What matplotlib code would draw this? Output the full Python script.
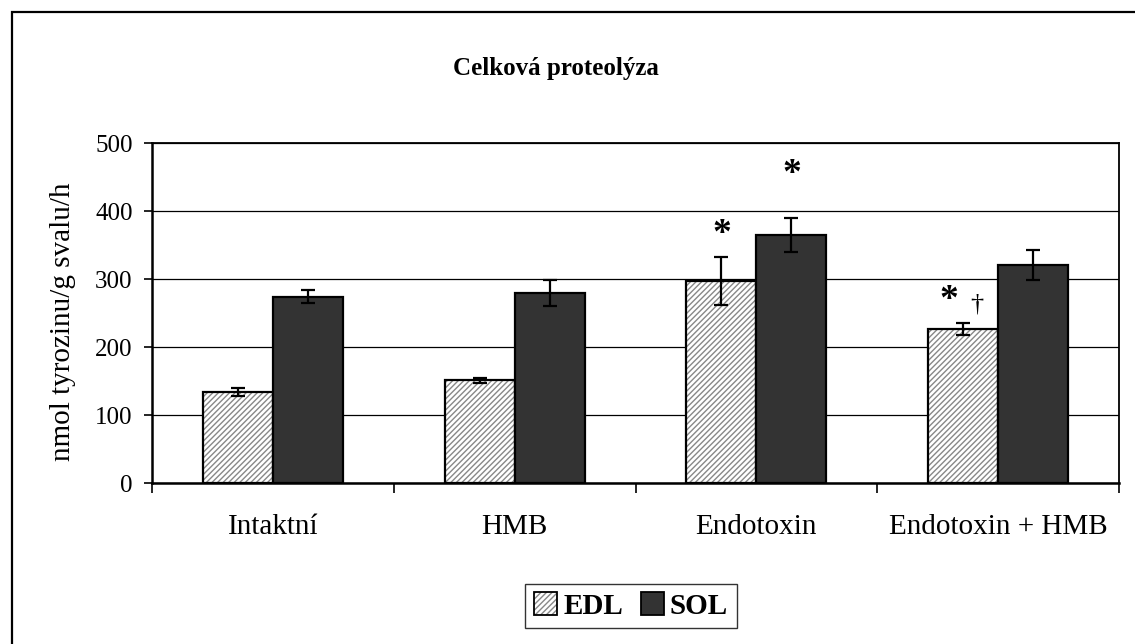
import numpy as np
import matplotlib
matplotlib.use('Agg')
import matplotlib.pyplot as plt
from matplotlib.patches import Patch, Rectangle
from matplotlib.legend_handler import HandlerTuple

plt.rcParams['font.family'] = ['Liberation Serif', 'DejaVu Serif']
plt.rcParams['hatch.linewidth'] = 1.0

categories = ['Intaktní', 'HMB', 'Endotoxin', 'Endotoxin + HMB']
edl = [134, 151, 297, 226]
edl_err = [6, 4, 35, 9]
sol = [274, 279, 365, 320]
sol_err = [10, 19, 25, 22]

W, H = 1135, 644
fig = plt.figure(figsize=(W / 100, H / 100), dpi=100)
ax = fig.add_axes([152 / W, 1 - 483 / H, (1119 - 152) / W, (483 - 143) / H])

x = np.arange(len(categories))
bw = 0.29

# EDL: hatch in grey, outline in black
ax.bar(x - bw / 2, edl, bw, color='white', edgecolor='#888888', hatch='//////', linewidth=0, zorder=2)
ax.bar(x - bw / 2, edl, bw, fill=False, edgecolor='black', linewidth=1.6, zorder=3)
ax.bar(x + bw / 2, sol, bw, color='#333333', edgecolor='black', linewidth=1.6, zorder=3)

ax.errorbar(x - bw / 2, edl, yerr=edl_err, fmt='none', ecolor='black', elinewidth=1.6, capsize=5, capthick=1.6, zorder=4)
ax.errorbar(x + bw / 2, sol, yerr=sol_err, fmt='none', ecolor='black', elinewidth=1.6, capsize=5, capthick=1.6, zorder=4)

# significance marks
ax.text(x[2] - bw / 2, 366, '*', ha='center', va='center', fontsize=27, fontweight='bold', zorder=5)
ax.text(x[2] + bw / 2, 453, '*', ha='center', va='center', fontsize=27, fontweight='bold', zorder=5)
ax.text(x[3] - bw / 2 - 0.06, 269, '*', ha='center', va='center', fontsize=27, fontweight='bold', zorder=5)
ax.text(x[3] - bw / 2 + 0.055, 262, '†', ha='center', va='center', fontsize=19, zorder=5)

ax.set_xlim(-0.5, 3.5)
ax.set_ylim(0, 500)
ax.set_yticks(np.arange(0, 501, 100))
ax.yaxis.grid(True, color='black', linewidth=0.9)
ax.set_axisbelow(True)
ax.tick_params(axis='y', direction='out', length=6, width=1.2, labelsize=18, pad=8)

ax.set_xticks(np.arange(-0.5, 3.6, 1))
ax.set_xticklabels([])
ax.set_xticks(x, minor=True)
ax.set_xticklabels(categories, minor=True, fontsize=21)
ax.tick_params(axis='x', which='major', direction='out', length=7, width=1.2)
ax.tick_params(axis='x', which='minor', length=0, pad=22)

for s in ['left', 'bottom']:
    ax.spines[s].set_linewidth(1.8)
for s in ['top', 'right']:
    ax.spines[s].set_linewidth(1.3)

fig.text(63 / W, 1 - 322 / H, 'nmol tyrozinu/g svalu/h', rotation=90, ha='center', va='center', fontsize=21)
fig.text(556 / W, 1 - 68 / H, 'Celková proteolýza', ha='center', va='center', fontsize=18, fontweight='bold')

h_edl = (Patch(facecolor='white', edgecolor='#888888', hatch='//////', linewidth=0),
         Patch(fill=False, edgecolor='black', linewidth=1.3))
h_sol = Patch(facecolor='#333333', edgecolor='black', linewidth=1.3)
leg = fig.legend([h_edl, h_sol], ['EDL', 'SOL'], loc='center', bbox_to_anchor=(631 / W, 1 - 606 / H),
                 ncol=2, frameon=True, fancybox=False, edgecolor='black', handlelength=0.8, handleheight=0.8,
                 handletextpad=0.2, columnspacing=0.6, borderpad=0.3, prop={'size': 21, 'weight': 'bold'},
                 handler_map={tuple: HandlerTuple(ndivide=1)})
leg.get_frame().set_linewidth(1.0)

fig.patches.append(Rectangle((12 / W, -0.05), 1.2, 1 - 12 / H + 0.05, transform=fig.transFigure,
                             fill=False, edgecolor='black', linewidth=1.6))

fig.savefig('out.png', dpi=100)
